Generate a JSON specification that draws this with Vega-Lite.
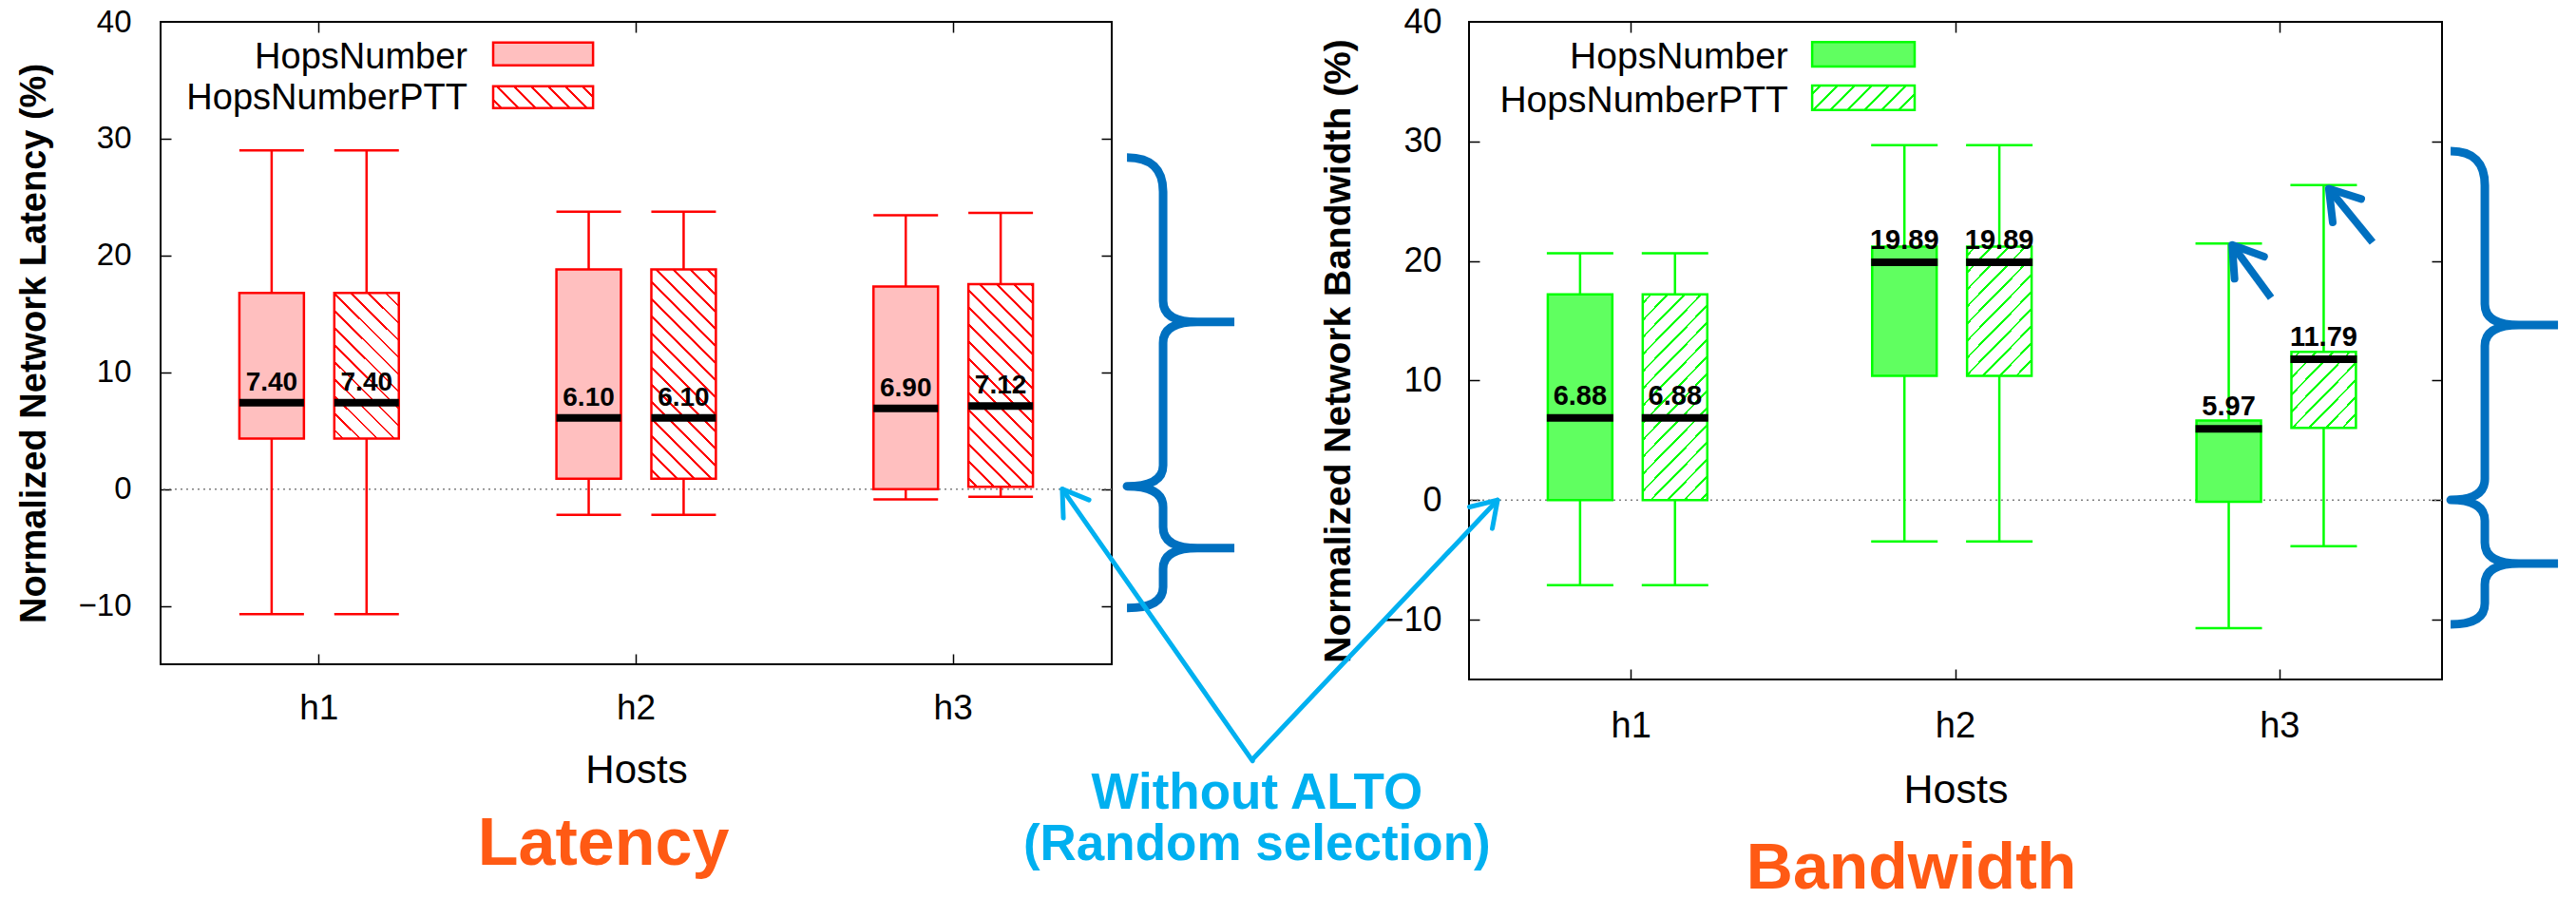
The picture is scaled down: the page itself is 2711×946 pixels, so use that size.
{
  "$schema": "https://vega.github.io/schema/vega-lite/v6.json",
  "background": "white",
  "padding": {"left": 16, "top": 4, "right": 5, "bottom": 5},
  "bounds": "flush",
  "spacing": 376,
  "config": {
    "view": {"stroke": "black", "strokeWidth": 2},
    "axis": {"labelFont": "Liberation Sans", "titleFont": "Liberation Sans", "labelColor": "black", "titleColor": "black", "grid": false, "labelFlush": false, "labelOverlap": false}
  },
  "hconcat": [
    {
      "width": 1001,
      "height": 676,
      "data": {"values": [
        {"host": "h1", "series": "HopsNumber", "min": -10.7, "q1": 4.33, "median": 7.40, "q3": 16.8, "max": 29.0},
        {"host": "h1", "series": "HopsNumberPTT", "min": -10.7, "q1": 4.33, "median": 7.40, "q3": 16.8, "max": 29.0},
        {"host": "h2", "series": "HopsNumber", "min": -2.2, "q1": 0.88, "median": 6.10, "q3": 18.8, "max": 23.75},
        {"host": "h2", "series": "HopsNumberPTT", "min": -2.2, "q1": 0.88, "median": 6.10, "q3": 18.8, "max": 23.75},
        {"host": "h3", "series": "HopsNumber", "min": -0.88, "q1": 0.0, "median": 6.90, "q3": 17.35, "max": 23.45},
        {"host": "h3", "series": "HopsNumberPTT", "min": -0.65, "q1": 0.2, "median": 7.12, "q3": 17.55, "max": 23.65}
      ]},
      "resolve": {"scale": {"x": "independent", "y": "independent"}},
      "layer": [
        {
          "data": {"values": [{}]},
          "mark": {"type": "rule", "color": "#7f7f7f", "strokeWidth": 1.5, "strokeDash": [2, 4]},
          "encoding": {"y": {"datum": 0, "type": "quantitative", "scale": {"domain": [-15, 40], "nice": false, "zero": false}, "axis": null}}
        },
        {
          "mark": {"type": "rule", "color": "#ff0000", "strokeWidth": 2.5, "opacity": 1},
          "encoding": {
            "x": {"field": "host", "type": "nominal", "scale": {"type": "band", "paddingInner": 0, "paddingOuter": 0}, "axis": {"orient": "bottom", "labels": false, "domain": false, "ticks": true, "tickSize": -11, "tickWidth": 1.5, "tickColor": "black", "title": null}},
            "xOffset": {"field": "series", "type": "nominal", "scale": {"paddingInner": 0.32, "paddingOuter": 0.83}},
            "y": {"field": "min", "type": "quantitative", "scale": {"domain": [-15, 40], "nice": false, "zero": false}, "axis": {"orient": "left", "labels": false, "domain": false, "ticks": true, "tickSize": -11, "tickWidth": 1.5, "tickColor": "black", "title": null, "values": [-10, 0, 10, 20, 30]}},
            "y2": {"field": "max"}
          }
        },
        {
          "mark": {"type": "tick", "color": "#ff0000", "thickness": 2.5, "size": 68, "opacity": 1},
          "encoding": {
            "x": {"field": "host", "type": "nominal", "scale": {"type": "band", "paddingInner": 0, "paddingOuter": 0}, "axis": {"orient": "top", "labels": false, "domain": false, "ticks": true, "tickSize": -11, "tickWidth": 1.5, "tickColor": "black", "title": null}},
            "xOffset": {"field": "series", "type": "nominal", "scale": {"paddingInner": 0.32, "paddingOuter": 0.83}},
            "y": {"field": "max", "type": "quantitative", "scale": {"domain": [-15, 40], "nice": false, "zero": false}, "axis": {"orient": "right", "labels": false, "domain": false, "ticks": true, "tickSize": -11, "tickWidth": 1.5, "tickColor": "black", "title": null, "values": [-10, 0, 10, 20, 30]}}
          }
        },
        {
          "mark": {"type": "tick", "color": "#ff0000", "thickness": 2.5, "size": 68, "opacity": 1},
          "encoding": {
            "x": {"field": "host", "type": "nominal", "scale": {"type": "band", "paddingInner": 0, "paddingOuter": 0}, "axis": null},
            "xOffset": {"field": "series", "type": "nominal", "scale": {"paddingInner": 0.32, "paddingOuter": 0.83}},
            "y": {"field": "min", "type": "quantitative", "scale": {"domain": [-15, 40], "nice": false, "zero": false}, "axis": null}
          }
        },
        {
          "mark": {"type": "bar", "stroke": "#ff0000", "strokeWidth": 2.5, "opacity": 1},
          "encoding": {
            "x": {"field": "host", "type": "nominal", "scale": {"type": "band", "paddingInner": 0, "paddingOuter": 0}, "axis": {"orient": "bottom", "ticks": false, "domain": false, "labelAngle": 0, "labelPadding": 28, "labelFontSize": 37, "title": "Hosts", "titleFontSize": 42, "titleFontWeight": "normal", "titlePadding": 27}},
            "xOffset": {"field": "series", "type": "nominal", "scale": {"paddingInner": 0.32, "paddingOuter": 0.83}},
            "y": {"field": "q1", "type": "quantitative", "scale": {"domain": [-15, 40], "nice": false, "zero": false}, "axis": {"orient": "left", "ticks": false, "domain": false, "values": [-10, 0, 10, 20, 30, 40], "labelPadding": 31, "labelFontSize": 33, "title": "Normalized Network Latency (%)", "titleFontSize": 38, "titleFontWeight": "bold", "titlePadding": 27}},
            "y2": {"field": "q3"},
            "fill": {"condition": [
              {"test": "datum.series === 'HopsNumber'", "value": "#ffbfbf"},
              {"test": "datum.host === 'h1'", "value": {"gradient": "linear", "x1": 0, "y1": 1, "x2": 0.5343, "y2": -0.2063, "stops": [
                {"offset": 0.0344, "color": "#fff"}, {"offset": 0.0344, "color": "#f00"}, {"offset": 0.047, "color": "#f00"}, {"offset": 0.047, "color": "#fff"},
                {"offset": 0.1157, "color": "#fff"}, {"offset": 0.1157, "color": "#f00"}, {"offset": 0.1284, "color": "#f00"}, {"offset": 0.1284, "color": "#fff"},
                {"offset": 0.1971, "color": "#fff"}, {"offset": 0.1971, "color": "#f00"}, {"offset": 0.2098, "color": "#f00"}, {"offset": 0.2098, "color": "#fff"},
                {"offset": 0.2785, "color": "#fff"}, {"offset": 0.2785, "color": "#f00"}, {"offset": 0.2911, "color": "#f00"}, {"offset": 0.2911, "color": "#fff"},
                {"offset": 0.3599, "color": "#fff"}, {"offset": 0.3599, "color": "#f00"}, {"offset": 0.3725, "color": "#f00"}, {"offset": 0.3725, "color": "#fff"},
                {"offset": 0.4412, "color": "#fff"}, {"offset": 0.4412, "color": "#f00"}, {"offset": 0.4539, "color": "#f00"}, {"offset": 0.4539, "color": "#fff"},
                {"offset": 0.5226, "color": "#fff"}, {"offset": 0.5226, "color": "#f00"}, {"offset": 0.5353, "color": "#f00"}, {"offset": 0.5353, "color": "#fff"},
                {"offset": 0.604, "color": "#fff"}, {"offset": 0.604, "color": "#f00"}, {"offset": 0.6166, "color": "#f00"}, {"offset": 0.6166, "color": "#fff"},
                {"offset": 0.6854, "color": "#fff"}, {"offset": 0.6854, "color": "#f00"}, {"offset": 0.698, "color": "#f00"}, {"offset": 0.698, "color": "#fff"},
                {"offset": 0.7667, "color": "#fff"}, {"offset": 0.7667, "color": "#f00"}, {"offset": 0.7794, "color": "#f00"}, {"offset": 0.7794, "color": "#fff"},
                {"offset": 0.8481, "color": "#fff"}, {"offset": 0.8481, "color": "#f00"}, {"offset": 0.8608, "color": "#f00"}, {"offset": 0.8608, "color": "#fff"},
                {"offset": 0.9295, "color": "#fff"}, {"offset": 0.9295, "color": "#f00"}, {"offset": 0.9421, "color": "#f00"}, {"offset": 0.9421, "color": "#fff"}
              ]}},
              {"test": "datum.host === 'h2'", "value": {"gradient": "linear", "x1": 0, "y1": 1, "x2": 0.3682, "y2": -0.1947, "stops": [
                {"offset": 0.0264, "color": "#fff"}, {"offset": 0.0264, "color": "#f00"}, {"offset": 0.0361, "color": "#f00"}, {"offset": 0.0361, "color": "#fff"},
                {"offset": 0.0888, "color": "#fff"}, {"offset": 0.0888, "color": "#f00"}, {"offset": 0.0985, "color": "#f00"}, {"offset": 0.0985, "color": "#fff"},
                {"offset": 0.1513, "color": "#fff"}, {"offset": 0.1513, "color": "#f00"}, {"offset": 0.161, "color": "#f00"}, {"offset": 0.161, "color": "#fff"},
                {"offset": 0.2137, "color": "#fff"}, {"offset": 0.2137, "color": "#f00"}, {"offset": 0.2235, "color": "#f00"}, {"offset": 0.2235, "color": "#fff"},
                {"offset": 0.2762, "color": "#fff"}, {"offset": 0.2762, "color": "#f00"}, {"offset": 0.2859, "color": "#f00"}, {"offset": 0.2859, "color": "#fff"},
                {"offset": 0.3387, "color": "#fff"}, {"offset": 0.3387, "color": "#f00"}, {"offset": 0.3484, "color": "#f00"}, {"offset": 0.3484, "color": "#fff"},
                {"offset": 0.4011, "color": "#fff"}, {"offset": 0.4011, "color": "#f00"}, {"offset": 0.4108, "color": "#f00"}, {"offset": 0.4108, "color": "#fff"},
                {"offset": 0.4636, "color": "#fff"}, {"offset": 0.4636, "color": "#f00"}, {"offset": 0.4733, "color": "#f00"}, {"offset": 0.4733, "color": "#fff"},
                {"offset": 0.526, "color": "#fff"}, {"offset": 0.526, "color": "#f00"}, {"offset": 0.5357, "color": "#f00"}, {"offset": 0.5357, "color": "#fff"},
                {"offset": 0.5885, "color": "#fff"}, {"offset": 0.5885, "color": "#f00"}, {"offset": 0.5982, "color": "#f00"}, {"offset": 0.5982, "color": "#fff"},
                {"offset": 0.6509, "color": "#fff"}, {"offset": 0.6509, "color": "#f00"}, {"offset": 0.6607, "color": "#f00"}, {"offset": 0.6607, "color": "#fff"},
                {"offset": 0.7134, "color": "#fff"}, {"offset": 0.7134, "color": "#f00"}, {"offset": 0.7231, "color": "#f00"}, {"offset": 0.7231, "color": "#fff"},
                {"offset": 0.7758, "color": "#fff"}, {"offset": 0.7758, "color": "#f00"}, {"offset": 0.7856, "color": "#f00"}, {"offset": 0.7856, "color": "#fff"},
                {"offset": 0.8383, "color": "#fff"}, {"offset": 0.8383, "color": "#f00"}, {"offset": 0.848, "color": "#f00"}, {"offset": 0.848, "color": "#fff"},
                {"offset": 0.9008, "color": "#fff"}, {"offset": 0.9008, "color": "#f00"}, {"offset": 0.9105, "color": "#f00"}, {"offset": 0.9105, "color": "#fff"},
                {"offset": 0.9632, "color": "#fff"}, {"offset": 0.9632, "color": "#f00"}, {"offset": 0.9729, "color": "#f00"}, {"offset": 0.9729, "color": "#fff"}
              ]}}
            ], "value": {"gradient": "linear", "x1": 0, "y1": 1, "x2": 0.3813, "y2": -0.1971, "stops": [
                {"offset": 0.027, "color": "#fff"}, {"offset": 0.027, "color": "#f00"}, {"offset": 0.037, "color": "#f00"}, {"offset": 0.037, "color": "#fff"},
                {"offset": 0.0911, "color": "#fff"}, {"offset": 0.0911, "color": "#f00"}, {"offset": 0.101, "color": "#f00"}, {"offset": 0.101, "color": "#fff"},
                {"offset": 0.1551, "color": "#fff"}, {"offset": 0.1551, "color": "#f00"}, {"offset": 0.1651, "color": "#f00"}, {"offset": 0.1651, "color": "#fff"},
                {"offset": 0.2191, "color": "#fff"}, {"offset": 0.2191, "color": "#f00"}, {"offset": 0.2291, "color": "#f00"}, {"offset": 0.2291, "color": "#fff"},
                {"offset": 0.2832, "color": "#fff"}, {"offset": 0.2832, "color": "#f00"}, {"offset": 0.2931, "color": "#f00"}, {"offset": 0.2931, "color": "#fff"},
                {"offset": 0.3472, "color": "#fff"}, {"offset": 0.3472, "color": "#f00"}, {"offset": 0.3572, "color": "#f00"}, {"offset": 0.3572, "color": "#fff"},
                {"offset": 0.4112, "color": "#fff"}, {"offset": 0.4112, "color": "#f00"}, {"offset": 0.4212, "color": "#f00"}, {"offset": 0.4212, "color": "#fff"},
                {"offset": 0.4753, "color": "#fff"}, {"offset": 0.4753, "color": "#f00"}, {"offset": 0.4852, "color": "#f00"}, {"offset": 0.4852, "color": "#fff"},
                {"offset": 0.5393, "color": "#fff"}, {"offset": 0.5393, "color": "#f00"}, {"offset": 0.5493, "color": "#f00"}, {"offset": 0.5493, "color": "#fff"},
                {"offset": 0.6033, "color": "#fff"}, {"offset": 0.6033, "color": "#f00"}, {"offset": 0.6133, "color": "#f00"}, {"offset": 0.6133, "color": "#fff"},
                {"offset": 0.6674, "color": "#fff"}, {"offset": 0.6674, "color": "#f00"}, {"offset": 0.6773, "color": "#f00"}, {"offset": 0.6773, "color": "#fff"},
                {"offset": 0.7314, "color": "#fff"}, {"offset": 0.7314, "color": "#f00"}, {"offset": 0.7414, "color": "#f00"}, {"offset": 0.7414, "color": "#fff"},
                {"offset": 0.7954, "color": "#fff"}, {"offset": 0.7954, "color": "#f00"}, {"offset": 0.8054, "color": "#f00"}, {"offset": 0.8054, "color": "#fff"},
                {"offset": 0.8595, "color": "#fff"}, {"offset": 0.8595, "color": "#f00"}, {"offset": 0.8694, "color": "#f00"}, {"offset": 0.8694, "color": "#fff"},
                {"offset": 0.9235, "color": "#fff"}, {"offset": 0.9235, "color": "#f00"}, {"offset": 0.9335, "color": "#f00"}, {"offset": 0.9335, "color": "#fff"},
                {"offset": 0.9875, "color": "#fff"}, {"offset": 0.9875, "color": "#f00"}, {"offset": 0.9975, "color": "#f00"}, {"offset": 0.9975, "color": "#fff"}
            ]}}
          }
        },
        {
          "mark": {"type": "tick", "color": "black", "thickness": 8, "size": 68, "opacity": 1},
          "encoding": {
            "x": {"field": "host", "type": "nominal", "scale": {"type": "band", "paddingInner": 0, "paddingOuter": 0}, "axis": null},
            "xOffset": {"field": "series", "type": "nominal", "scale": {"paddingInner": 0.32, "paddingOuter": 0.83}},
            "y": {"field": "median", "type": "quantitative", "scale": {"domain": [-15, 40], "nice": false, "zero": false}, "axis": null}
          }
        },
        {
          "mark": {"type": "text", "font": "Liberation Sans", "fontWeight": "bold", "fontSize": 28, "dy": -13, "align": "center", "baseline": "alphabetic", "color": "black"},
          "encoding": {
            "x": {"field": "host", "type": "nominal", "scale": {"type": "band", "paddingInner": 0, "paddingOuter": 0}, "axis": null},
            "xOffset": {"field": "series", "type": "nominal", "scale": {"paddingInner": 0.32, "paddingOuter": 0.83}},
            "y": {"field": "median", "type": "quantitative", "scale": {"domain": [-15, 40], "nice": false, "zero": false}, "axis": null},
            "text": {"field": "median", "type": "quantitative", "format": ".2f"}
          }
        },
        {
          "data": {"values": [{}]},
          "mark": {"type": "text", "font": "Liberation Sans", "fontSize": 38, "align": "right", "baseline": "alphabetic", "color": "black"},
          "encoding": {
            "x": {"datum": 1.468, "type": "quantitative", "scale": {"domain": [0.5, 3.5], "nice": false, "zero": false}, "axis": null},
            "y": {"datum": 36.05, "type": "quantitative", "scale": {"domain": [-15, 40], "nice": false, "zero": false}, "axis": null},
            "text": {"value": "HopsNumber"}
          }
        },
        {
          "data": {"values": [{}]},
          "mark": {"type": "text", "font": "Liberation Sans", "fontSize": 38, "align": "right", "baseline": "alphabetic", "color": "black"},
          "encoding": {
            "x": {"datum": 1.468, "type": "quantitative", "scale": {"domain": [0.5, 3.5], "nice": false, "zero": false}, "axis": null},
            "y": {"datum": 32.51, "type": "quantitative", "scale": {"domain": [-15, 40], "nice": false, "zero": false}, "axis": null},
            "text": {"value": "HopsNumberPTT"}
          }
        },
        {
          "data": {"values": [{}]},
          "mark": {"type": "bar", "fill": "#ffbfbf", "stroke": "#ff0000", "strokeWidth": 2.5, "opacity": 1},
          "encoding": {
            "x": {"datum": 1.549, "type": "quantitative", "scale": {"domain": [0.5, 3.5], "nice": false, "zero": false}, "axis": null},
            "x2": {"datum": 1.864},
            "y": {"datum": 38.23, "type": "quantitative", "scale": {"domain": [-15, 40], "nice": false, "zero": false}, "axis": null},
            "y2": {"datum": 36.28}
          }
        },
        {
          "data": {"values": [{}]},
          "mark": {"type": "bar", "stroke": "#ff0000", "strokeWidth": 2.5, "opacity": 1, "fill": {"gradient": "linear", "x1": 0, "y1": 1, "x2": 1.1631, "y2": 0.7455, "stops": [
            {"offset": 0.0593, "color": "#fff"}, {"offset": 0.0593, "color": "#f00"}, {"offset": 0.0812, "color": "#f00"}, {"offset": 0.0812, "color": "#fff"},
            {"offset": 0.1998, "color": "#fff"}, {"offset": 0.1998, "color": "#f00"}, {"offset": 0.2217, "color": "#f00"}, {"offset": 0.2217, "color": "#fff"},
            {"offset": 0.3404, "color": "#fff"}, {"offset": 0.3404, "color": "#f00"}, {"offset": 0.3622, "color": "#f00"}, {"offset": 0.3622, "color": "#fff"},
            {"offset": 0.4809, "color": "#fff"}, {"offset": 0.4809, "color": "#f00"}, {"offset": 0.5027, "color": "#f00"}, {"offset": 0.5027, "color": "#fff"},
            {"offset": 0.6214, "color": "#fff"}, {"offset": 0.6214, "color": "#f00"}, {"offset": 0.6432, "color": "#f00"}, {"offset": 0.6432, "color": "#fff"},
            {"offset": 0.7619, "color": "#fff"}, {"offset": 0.7619, "color": "#f00"}, {"offset": 0.7838, "color": "#f00"}, {"offset": 0.7838, "color": "#fff"},
            {"offset": 0.9024, "color": "#fff"}, {"offset": 0.9024, "color": "#f00"}, {"offset": 0.9243, "color": "#f00"}, {"offset": 0.9243, "color": "#fff"}
          ]}},
          "encoding": {
            "x": {"datum": 1.549, "type": "quantitative", "scale": {"domain": [0.5, 3.5], "nice": false, "zero": false}, "axis": null},
            "x2": {"datum": 1.864},
            "y": {"datum": 34.49, "type": "quantitative", "scale": {"domain": [-15, 40], "nice": false, "zero": false}, "axis": null},
            "y2": {"datum": 32.62}
          }
        },
        {
          "data": {"values": [{}]},
          "mark": {"type": "point", "shape": "M-0.38,-2.36Q0,-2.36 0,-2L0,-0.85Q0,-0.63 0.36,-0.63L0.75,-0.63M0.36,-0.63Q0,-0.63 0,-0.41L0,0.88Q0,1.1 -0.38,1.1Q0,1.1 0,1.32L0,1.53Q0,1.75 0.36,1.75L0.75,1.75M0.36,1.75Q0,1.75 0,1.97L0,2.16Q0,2.38 -0.38,2.38", "size": 40000, "filled": false, "stroke": "#0070c0", "strokeWidth": 9, "strokeCap": "butt", "strokeJoin": "round", "opacity": 1},
          "encoding": {
            "x": {"datum": 3.662, "type": "quantitative", "scale": {"domain": [0.5, 3.5], "nice": false, "zero": false}, "axis": null},
            "y": {"datum": 9.19, "type": "quantitative", "scale": {"domain": [-15, 40], "nice": false, "zero": false}, "axis": null}
          }
        },
        {
          "data": {"values": [{}]},
          "mark": {"type": "rule", "color": "#00b0f0", "strokeWidth": 5, "strokeCap": "round", "opacity": 1},
          "encoding": {
            "x": {"datum": 3.944, "type": "quantitative", "scale": {"domain": [0.5, 3.5], "nice": false, "zero": false}, "axis": null},
            "x2": {"datum": 3.344},
            "y": {"datum": -23.27, "type": "quantitative", "scale": {"domain": [-15, 40], "nice": false, "zero": false}, "axis": null},
            "y2": {"datum": 0}
          }
        },
        {
          "data": {"values": [{}]},
          "mark": {"type": "point", "shape": "M-0.55,0.85L0,0L0.55,0.85", "size": 3600, "angle": -35, "filled": false, "stroke": "#00b0f0", "strokeWidth": 5, "strokeCap": "round", "strokeJoin": "round", "opacity": 1},
          "encoding": {
            "x": {"datum": 3.344, "type": "quantitative", "scale": {"domain": [0.5, 3.5], "nice": false, "zero": false}, "axis": null},
            "y": {"datum": 0, "type": "quantitative", "scale": {"domain": [-15, 40], "nice": false, "zero": false}, "axis": null}
          }
        },
        {
          "data": {"values": [{}]},
          "mark": {"type": "text", "font": "Liberation Sans", "fontWeight": "bold", "fontSize": 70, "align": "center", "baseline": "alphabetic", "color": "#ff5a14"},
          "encoding": {
            "x": {"datum": 1.897, "type": "quantitative", "scale": {"domain": [0.5, 3.5], "nice": false, "zero": false}, "axis": null},
            "y": {"datum": -32.15, "type": "quantitative", "scale": {"domain": [-15, 40], "nice": false, "zero": false}, "axis": null},
            "text": {"value": "Latency"}
          }
        },
        {
          "data": {"values": [{}]},
          "mark": {"type": "text", "font": "Liberation Sans", "fontWeight": "bold", "fontSize": 53, "align": "center", "baseline": "alphabetic", "color": "#00b0f0"},
          "encoding": {
            "x": {"datum": 3.958, "type": "quantitative", "scale": {"domain": [0.5, 3.5], "nice": false, "zero": false}, "axis": null},
            "y": {"datum": -27.35, "type": "quantitative", "scale": {"domain": [-15, 40], "nice": false, "zero": false}, "axis": null},
            "text": {"value": "Without ALTO"}
          }
        },
        {
          "data": {"values": [{}]},
          "mark": {"type": "text", "font": "Liberation Sans", "fontWeight": "bold", "fontSize": 53, "align": "center", "baseline": "alphabetic", "color": "#00b0f0"},
          "encoding": {
            "x": {"datum": 3.958, "type": "quantitative", "scale": {"domain": [0.5, 3.5], "nice": false, "zero": false}, "axis": null},
            "y": {"datum": -31.8, "type": "quantitative", "scale": {"domain": [-15, 40], "nice": false, "zero": false}, "axis": null},
            "text": {"value": "(Random selection)"}
          }
        }
      ]
    },
    {
      "width": 1024,
      "height": 692,
      "data": {"values": [
        {"host": "h1", "series": "HopsNumber", "min": -7.12, "q1": 0.0, "median": 6.88, "q3": 17.2, "max": 20.65},
        {"host": "h1", "series": "HopsNumberPTT", "min": -7.12, "q1": 0.0, "median": 6.88, "q3": 17.2, "max": 20.65},
        {"host": "h2", "series": "HopsNumber", "min": -3.45, "q1": 10.4, "median": 19.89, "q3": 21.2, "max": 29.68},
        {"host": "h2", "series": "HopsNumberPTT", "min": -3.45, "q1": 10.4, "median": 19.89, "q3": 21.2, "max": 29.68},
        {"host": "h3", "series": "HopsNumber", "min": -10.7, "q1": -0.14, "median": 5.97, "q3": 6.66, "max": 21.47},
        {"host": "h3", "series": "HopsNumberPTT", "min": -3.85, "q1": 6.05, "median": 11.79, "q3": 12.4, "max": 26.35}
      ]},
      "resolve": {"scale": {"x": "independent", "y": "independent"}},
      "layer": [
        {
          "data": {"values": [{}]},
          "mark": {"type": "rule", "color": "#7f7f7f", "strokeWidth": 1.5, "strokeDash": [2, 4]},
          "encoding": {"y": {"datum": 0, "type": "quantitative", "scale": {"domain": [-15, 40], "nice": false, "zero": false}, "axis": null}}
        },
        {
          "mark": {"type": "rule", "color": "#00ff00", "strokeWidth": 2.5, "opacity": 1},
          "encoding": {
            "x": {"field": "host", "type": "nominal", "scale": {"type": "band", "paddingInner": 0, "paddingOuter": 0}, "axis": {"orient": "bottom", "labels": false, "domain": false, "ticks": true, "tickSize": -11, "tickWidth": 1.5, "tickColor": "black", "title": null}},
            "xOffset": {"field": "series", "type": "nominal", "scale": {"paddingInner": 0.32, "paddingOuter": 0.83}},
            "y": {"field": "min", "type": "quantitative", "scale": {"domain": [-15, 40], "nice": false, "zero": false}, "axis": {"orient": "left", "labels": false, "domain": false, "ticks": true, "tickSize": -11, "tickWidth": 1.5, "tickColor": "black", "title": null, "values": [-10, 0, 10, 20, 30]}},
            "y2": {"field": "max"}
          }
        },
        {
          "mark": {"type": "tick", "color": "#00ff00", "thickness": 2.5, "size": 70, "opacity": 1},
          "encoding": {
            "x": {"field": "host", "type": "nominal", "scale": {"type": "band", "paddingInner": 0, "paddingOuter": 0}, "axis": {"orient": "top", "labels": false, "domain": false, "ticks": true, "tickSize": -11, "tickWidth": 1.5, "tickColor": "black", "title": null}},
            "xOffset": {"field": "series", "type": "nominal", "scale": {"paddingInner": 0.32, "paddingOuter": 0.83}},
            "y": {"field": "max", "type": "quantitative", "scale": {"domain": [-15, 40], "nice": false, "zero": false}, "axis": {"orient": "right", "labels": false, "domain": false, "ticks": true, "tickSize": -11, "tickWidth": 1.5, "tickColor": "black", "title": null, "values": [-10, 0, 10, 20, 30]}}
          }
        },
        {
          "mark": {"type": "tick", "color": "#00ff00", "thickness": 2.5, "size": 70, "opacity": 1},
          "encoding": {
            "x": {"field": "host", "type": "nominal", "scale": {"type": "band", "paddingInner": 0, "paddingOuter": 0}, "axis": null},
            "xOffset": {"field": "series", "type": "nominal", "scale": {"paddingInner": 0.32, "paddingOuter": 0.83}},
            "y": {"field": "min", "type": "quantitative", "scale": {"domain": [-15, 40], "nice": false, "zero": false}, "axis": null}
          }
        },
        {
          "mark": {"type": "bar", "stroke": "#00ff00", "strokeWidth": 2.5, "opacity": 1},
          "encoding": {
            "x": {"field": "host", "type": "nominal", "scale": {"type": "band", "paddingInner": 0, "paddingOuter": 0}, "axis": {"orient": "bottom", "ticks": false, "domain": false, "labelAngle": 0, "labelPadding": 30, "labelFontSize": 38, "title": "Hosts", "titleFontSize": 43, "titleFontWeight": "normal", "titlePadding": 27}},
            "xOffset": {"field": "series", "type": "nominal", "scale": {"paddingInner": 0.32, "paddingOuter": 0.83}},
            "y": {"field": "q1", "type": "quantitative", "scale": {"domain": [-15, 40], "nice": false, "zero": false}, "axis": {"orient": "left", "ticks": false, "domain": false, "values": [-10, 0, 10, 20, 30, 40], "labelPadding": 29, "labelFontSize": 36, "title": "Normalized Network Bandwidth (%)", "titleFontSize": 39, "titleFontWeight": "bold", "titlePadding": 27}},
            "y2": {"field": "q3"},
            "fill": {"condition": [
              {"test": "datum.series === 'HopsNumber'", "value": "#60ff60"},
              {"test": "datum.host === 'h1'", "value": {"gradient": "linear", "x1": 0, "y1": 0, "x2": 0.3846, "y2": 1.1976, "stops": [
                {"offset": 0.0266, "color": "#fff"}, {"offset": 0.0266, "color": "#0f0"}, {"offset": 0.0364, "color": "#0f0"}, {"offset": 0.0364, "color": "#fff"},
                {"offset": 0.0895, "color": "#fff"}, {"offset": 0.0895, "color": "#0f0"}, {"offset": 0.0993, "color": "#0f0"}, {"offset": 0.0993, "color": "#fff"},
                {"offset": 0.1525, "color": "#fff"}, {"offset": 0.1525, "color": "#0f0"}, {"offset": 0.1623, "color": "#0f0"}, {"offset": 0.1623, "color": "#fff"},
                {"offset": 0.2155, "color": "#fff"}, {"offset": 0.2155, "color": "#0f0"}, {"offset": 0.2253, "color": "#0f0"}, {"offset": 0.2253, "color": "#fff"},
                {"offset": 0.2784, "color": "#fff"}, {"offset": 0.2784, "color": "#0f0"}, {"offset": 0.2882, "color": "#0f0"}, {"offset": 0.2882, "color": "#fff"},
                {"offset": 0.3414, "color": "#fff"}, {"offset": 0.3414, "color": "#0f0"}, {"offset": 0.3512, "color": "#0f0"}, {"offset": 0.3512, "color": "#fff"},
                {"offset": 0.4043, "color": "#fff"}, {"offset": 0.4043, "color": "#0f0"}, {"offset": 0.4141, "color": "#0f0"}, {"offset": 0.4141, "color": "#fff"},
                {"offset": 0.4673, "color": "#fff"}, {"offset": 0.4673, "color": "#0f0"}, {"offset": 0.4771, "color": "#0f0"}, {"offset": 0.4771, "color": "#fff"},
                {"offset": 0.5302, "color": "#fff"}, {"offset": 0.5302, "color": "#0f0"}, {"offset": 0.54, "color": "#0f0"}, {"offset": 0.54, "color": "#fff"},
                {"offset": 0.5932, "color": "#fff"}, {"offset": 0.5932, "color": "#0f0"}, {"offset": 0.603, "color": "#0f0"}, {"offset": 0.603, "color": "#fff"},
                {"offset": 0.6562, "color": "#fff"}, {"offset": 0.6562, "color": "#0f0"}, {"offset": 0.666, "color": "#0f0"}, {"offset": 0.666, "color": "#fff"},
                {"offset": 0.7191, "color": "#fff"}, {"offset": 0.7191, "color": "#0f0"}, {"offset": 0.7289, "color": "#0f0"}, {"offset": 0.7289, "color": "#fff"},
                {"offset": 0.7821, "color": "#fff"}, {"offset": 0.7821, "color": "#0f0"}, {"offset": 0.7919, "color": "#0f0"}, {"offset": 0.7919, "color": "#fff"},
                {"offset": 0.845, "color": "#fff"}, {"offset": 0.845, "color": "#0f0"}, {"offset": 0.8548, "color": "#0f0"}, {"offset": 0.8548, "color": "#fff"},
                {"offset": 0.908, "color": "#fff"}, {"offset": 0.908, "color": "#0f0"}, {"offset": 0.9178, "color": "#0f0"}, {"offset": 0.9178, "color": "#fff"},
                {"offset": 0.971, "color": "#fff"}, {"offset": 0.971, "color": "#0f0"}, {"offset": 0.9808, "color": "#0f0"}, {"offset": 0.9808, "color": "#fff"}
              ]}},
              {"test": "datum.host === 'h2'", "value": {"gradient": "linear", "x1": 0, "y1": 0, "x2": 0.6127, "y2": 1.1981, "stops": [
                {"offset": 0.037, "color": "#fff"}, {"offset": 0.037, "color": "#0f0"}, {"offset": 0.0506, "color": "#0f0"}, {"offset": 0.0506, "color": "#fff"},
                {"offset": 0.1246, "color": "#fff"}, {"offset": 0.1246, "color": "#0f0"}, {"offset": 0.1383, "color": "#0f0"}, {"offset": 0.1383, "color": "#fff"},
                {"offset": 0.2123, "color": "#fff"}, {"offset": 0.2123, "color": "#0f0"}, {"offset": 0.2259, "color": "#0f0"}, {"offset": 0.2259, "color": "#fff"},
                {"offset": 0.2999, "color": "#fff"}, {"offset": 0.2999, "color": "#0f0"}, {"offset": 0.3135, "color": "#0f0"}, {"offset": 0.3135, "color": "#fff"},
                {"offset": 0.3875, "color": "#fff"}, {"offset": 0.3875, "color": "#0f0"}, {"offset": 0.4012, "color": "#0f0"}, {"offset": 0.4012, "color": "#fff"},
                {"offset": 0.4752, "color": "#fff"}, {"offset": 0.4752, "color": "#0f0"}, {"offset": 0.4888, "color": "#0f0"}, {"offset": 0.4888, "color": "#fff"},
                {"offset": 0.5628, "color": "#fff"}, {"offset": 0.5628, "color": "#0f0"}, {"offset": 0.5764, "color": "#0f0"}, {"offset": 0.5764, "color": "#fff"},
                {"offset": 0.6504, "color": "#fff"}, {"offset": 0.6504, "color": "#0f0"}, {"offset": 0.6641, "color": "#0f0"}, {"offset": 0.6641, "color": "#fff"},
                {"offset": 0.7381, "color": "#fff"}, {"offset": 0.7381, "color": "#0f0"}, {"offset": 0.7517, "color": "#0f0"}, {"offset": 0.7517, "color": "#fff"},
                {"offset": 0.8257, "color": "#fff"}, {"offset": 0.8257, "color": "#0f0"}, {"offset": 0.8393, "color": "#0f0"}, {"offset": 0.8393, "color": "#fff"},
                {"offset": 0.9133, "color": "#fff"}, {"offset": 0.9133, "color": "#0f0"}, {"offset": 0.927, "color": "#0f0"}, {"offset": 0.927, "color": "#fff"}
              ]}}
            ], "value": {"gradient": "linear", "x1": 0, "y1": 0, "x2": 0.9259, "y2": 1.0645, "stops": [
                {"offset": 0.0509, "color": "#fff"}, {"offset": 0.0509, "color": "#0f0"}, {"offset": 0.0696, "color": "#0f0"}, {"offset": 0.0696, "color": "#fff"},
                {"offset": 0.1714, "color": "#fff"}, {"offset": 0.1714, "color": "#0f0"}, {"offset": 0.1901, "color": "#0f0"}, {"offset": 0.1901, "color": "#fff"},
                {"offset": 0.2918, "color": "#fff"}, {"offset": 0.2918, "color": "#0f0"}, {"offset": 0.3106, "color": "#0f0"}, {"offset": 0.3106, "color": "#fff"},
                {"offset": 0.4123, "color": "#fff"}, {"offset": 0.4123, "color": "#0f0"}, {"offset": 0.4311, "color": "#0f0"}, {"offset": 0.4311, "color": "#fff"},
                {"offset": 0.5328, "color": "#fff"}, {"offset": 0.5328, "color": "#0f0"}, {"offset": 0.5515, "color": "#0f0"}, {"offset": 0.5515, "color": "#fff"},
                {"offset": 0.6533, "color": "#fff"}, {"offset": 0.6533, "color": "#0f0"}, {"offset": 0.672, "color": "#0f0"}, {"offset": 0.672, "color": "#fff"},
                {"offset": 0.7738, "color": "#fff"}, {"offset": 0.7738, "color": "#0f0"}, {"offset": 0.7925, "color": "#0f0"}, {"offset": 0.7925, "color": "#fff"},
                {"offset": 0.8942, "color": "#fff"}, {"offset": 0.8942, "color": "#0f0"}, {"offset": 0.913, "color": "#0f0"}, {"offset": 0.913, "color": "#fff"}
            ]}}
          }
        },
        {
          "mark": {"type": "tick", "color": "black", "thickness": 8, "size": 70, "opacity": 1},
          "encoding": {
            "x": {"field": "host", "type": "nominal", "scale": {"type": "band", "paddingInner": 0, "paddingOuter": 0}, "axis": null},
            "xOffset": {"field": "series", "type": "nominal", "scale": {"paddingInner": 0.32, "paddingOuter": 0.83}},
            "y": {"field": "median", "type": "quantitative", "scale": {"domain": [-15, 40], "nice": false, "zero": false}, "axis": null}
          }
        },
        {
          "mark": {"type": "text", "font": "Liberation Sans", "fontWeight": "bold", "fontSize": 29, "dy": -14, "align": "center", "baseline": "alphabetic", "color": "black"},
          "encoding": {
            "x": {"field": "host", "type": "nominal", "scale": {"type": "band", "paddingInner": 0, "paddingOuter": 0}, "axis": null},
            "xOffset": {"field": "series", "type": "nominal", "scale": {"paddingInner": 0.32, "paddingOuter": 0.83}},
            "y": {"field": "median", "type": "quantitative", "scale": {"domain": [-15, 40], "nice": false, "zero": false}, "axis": null},
            "text": {"field": "median", "type": "quantitative", "format": ".2f"}
          }
        },
        {
          "data": {"values": [{}]},
          "mark": {"type": "text", "font": "Liberation Sans", "fontSize": 39, "align": "right", "baseline": "alphabetic", "color": "black"},
          "encoding": {
            "x": {"datum": 1.484, "type": "quantitative", "scale": {"domain": [0.5, 3.5], "nice": false, "zero": false}, "axis": null},
            "y": {"datum": 36.1, "type": "quantitative", "scale": {"domain": [-15, 40], "nice": false, "zero": false}, "axis": null},
            "text": {"value": "HopsNumber"}
          }
        },
        {
          "data": {"values": [{}]},
          "mark": {"type": "text", "font": "Liberation Sans", "fontSize": 39, "align": "right", "baseline": "alphabetic", "color": "black"},
          "encoding": {
            "x": {"datum": 1.484, "type": "quantitative", "scale": {"domain": [0.5, 3.5], "nice": false, "zero": false}, "axis": null},
            "y": {"datum": 32.45, "type": "quantitative", "scale": {"domain": [-15, 40], "nice": false, "zero": false}, "axis": null},
            "text": {"value": "HopsNumberPTT"}
          }
        },
        {
          "data": {"values": [{}]},
          "mark": {"type": "bar", "fill": "#60ff60", "stroke": "#00ff00", "strokeWidth": 2.5, "opacity": 1},
          "encoding": {
            "x": {"datum": 1.558, "type": "quantitative", "scale": {"domain": [0.5, 3.5], "nice": false, "zero": false}, "axis": null},
            "x2": {"datum": 1.874},
            "y": {"datum": 38.31, "type": "quantitative", "scale": {"domain": [-15, 40], "nice": false, "zero": false}, "axis": null},
            "y2": {"datum": 36.26}
          }
        },
        {
          "data": {"values": [{}]},
          "mark": {"type": "bar", "stroke": "#00ff00", "strokeWidth": 2.5, "opacity": 1, "fill": {"gradient": "linear", "x1": 0, "y1": 0, "x2": 1.1717, "y2": 0.2791, "stops": [
            {"offset": 0.0569, "color": "#fff"}, {"offset": 0.0569, "color": "#0f0"}, {"offset": 0.0778, "color": "#0f0"}, {"offset": 0.0778, "color": "#fff"},
            {"offset": 0.1916, "color": "#fff"}, {"offset": 0.1916, "color": "#0f0"}, {"offset": 0.2126, "color": "#0f0"}, {"offset": 0.2126, "color": "#fff"},
            {"offset": 0.3263, "color": "#fff"}, {"offset": 0.3263, "color": "#0f0"}, {"offset": 0.3473, "color": "#0f0"}, {"offset": 0.3473, "color": "#fff"},
            {"offset": 0.4611, "color": "#fff"}, {"offset": 0.4611, "color": "#0f0"}, {"offset": 0.482, "color": "#0f0"}, {"offset": 0.482, "color": "#fff"},
            {"offset": 0.5958, "color": "#fff"}, {"offset": 0.5958, "color": "#0f0"}, {"offset": 0.6168, "color": "#0f0"}, {"offset": 0.6168, "color": "#fff"},
            {"offset": 0.7305, "color": "#fff"}, {"offset": 0.7305, "color": "#0f0"}, {"offset": 0.7515, "color": "#0f0"}, {"offset": 0.7515, "color": "#fff"},
            {"offset": 0.8653, "color": "#fff"}, {"offset": 0.8653, "color": "#0f0"}, {"offset": 0.8862, "color": "#0f0"}, {"offset": 0.8862, "color": "#fff"}
          ]}},
          "encoding": {
            "x": {"datum": 1.558, "type": "quantitative", "scale": {"domain": [0.5, 3.5], "nice": false, "zero": false}, "axis": null},
            "x2": {"datum": 1.874},
            "y": {"datum": 34.67, "type": "quantitative", "scale": {"domain": [-15, 40], "nice": false, "zero": false}, "axis": null},
            "y2": {"datum": 32.63}
          }
        },
        {
          "data": {"values": [{}]},
          "mark": {"type": "point", "shape": "M-0.36,-2.41Q0,-2.41 0,-2.05L0,-0.8Q0,-0.58 0.36,-0.58L0.77,-0.58M0.36,-0.58Q0,-0.58 0,-0.36L0,1.04Q0,1.26 -0.36,1.26Q0,1.26 0,1.48L0,1.71Q0,1.93 0.36,1.93L0.77,1.93M0.36,1.93Q0,1.93 0,2.15L0,2.35Q0,2.57 -0.36,2.57", "size": 40000, "filled": false, "stroke": "#0070c0", "strokeWidth": 9, "strokeCap": "butt", "strokeJoin": "round", "opacity": 1},
          "encoding": {
            "x": {"datum": 3.632, "type": "quantitative", "scale": {"domain": [0.5, 3.5], "nice": false, "zero": false}, "axis": null},
            "y": {"datum": 10.03, "type": "quantitative", "scale": {"domain": [-15, 40], "nice": false, "zero": false}, "axis": null}
          }
        },
        {
          "data": {"values": [{}]},
          "mark": {"type": "rule", "color": "#00b0f0", "strokeWidth": 5, "strokeCap": "round", "opacity": 1},
          "encoding": {
            "x": {"datum": -0.168, "type": "quantitative", "scale": {"domain": [0.5, 3.5], "nice": false, "zero": false}, "axis": null},
            "x2": {"datum": 0.588},
            "y": {"datum": -21.69, "type": "quantitative", "scale": {"domain": [-15, 40], "nice": false, "zero": false}, "axis": null},
            "y2": {"datum": 0}
          }
        },
        {
          "data": {"values": [{}]},
          "mark": {"type": "point", "shape": "M-0.55,0.85L0,0L0.55,0.85", "size": 3600, "angle": 43.4, "filled": false, "stroke": "#00b0f0", "strokeWidth": 5, "strokeCap": "round", "strokeJoin": "round", "opacity": 1},
          "encoding": {
            "x": {"datum": 0.588, "type": "quantitative", "scale": {"domain": [0.5, 3.5], "nice": false, "zero": false}, "axis": null},
            "y": {"datum": 0, "type": "quantitative", "scale": {"domain": [-15, 40], "nice": false, "zero": false}, "axis": null}
          }
        },
        {
          "data": {"values": [{}]},
          "mark": {"type": "rule", "color": "#0070c0", "strokeWidth": 8, "strokeCap": "butt", "opacity": 1},
          "encoding": {
            "x": {"datum": 2.973, "type": "quantitative", "scale": {"domain": [0.5, 3.5], "nice": false, "zero": false}, "axis": null},
            "x2": {"datum": 2.853},
            "y": {"datum": 16.93, "type": "quantitative", "scale": {"domain": [-15, 40], "nice": false, "zero": false}, "axis": null},
            "y2": {"datum": 21.35}
          }
        },
        {
          "data": {"values": [{}]},
          "mark": {"type": "point", "shape": "M-0.55,0.85L0,0L0.55,0.85", "size": 5000, "angle": -36.9, "filled": false, "stroke": "#0070c0", "strokeWidth": 8, "strokeCap": "round", "strokeJoin": "round", "opacity": 1},
          "encoding": {
            "x": {"datum": 2.853, "type": "quantitative", "scale": {"domain": [0.5, 3.5], "nice": false, "zero": false}, "axis": null},
            "y": {"datum": 21.35, "type": "quantitative", "scale": {"domain": [-15, 40], "nice": false, "zero": false}, "axis": null}
          }
        },
        {
          "data": {"values": [{}]},
          "mark": {"type": "rule", "color": "#0070c0", "strokeWidth": 8, "strokeCap": "butt", "opacity": 1},
          "encoding": {
            "x": {"datum": 3.286, "type": "quantitative", "scale": {"domain": [0.5, 3.5], "nice": false, "zero": false}, "axis": null},
            "x2": {"datum": 3.151},
            "y": {"datum": 21.56, "type": "quantitative", "scale": {"domain": [-15, 40], "nice": false, "zero": false}, "axis": null},
            "y2": {"datum": 26.05}
          }
        },
        {
          "data": {"values": [{}]},
          "mark": {"type": "point", "shape": "M-0.55,0.85L0,0L0.55,0.85", "size": 5000, "angle": -39.5, "filled": false, "stroke": "#0070c0", "strokeWidth": 8, "strokeCap": "round", "strokeJoin": "round", "opacity": 1},
          "encoding": {
            "x": {"datum": 3.151, "type": "quantitative", "scale": {"domain": [0.5, 3.5], "nice": false, "zero": false}, "axis": null},
            "y": {"datum": 26.05, "type": "quantitative", "scale": {"domain": [-15, 40], "nice": false, "zero": false}, "axis": null}
          }
        },
        {
          "data": {"values": [{}]},
          "mark": {"type": "text", "font": "Liberation Sans", "fontWeight": "bold", "fontSize": 68, "align": "center", "baseline": "alphabetic", "color": "#ff5a14"},
          "encoding": {
            "x": {"datum": 1.864, "type": "quantitative", "scale": {"domain": [0.5, 3.5], "nice": false, "zero": false}, "axis": null},
            "y": {"datum": -32.5, "type": "quantitative", "scale": {"domain": [-15, 40], "nice": false, "zero": false}, "axis": null},
            "text": {"value": "Bandwidth"}
          }
        }
      ]
    }
  ]
}
